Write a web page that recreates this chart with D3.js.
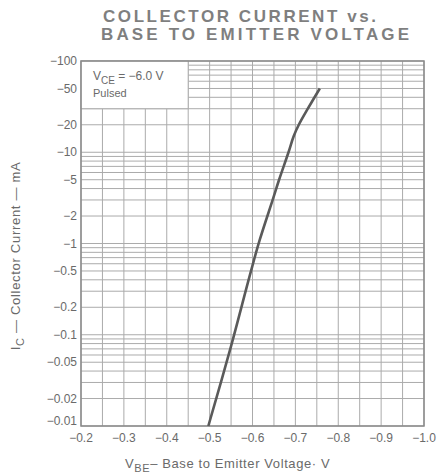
<!DOCTYPE html>
<html><head><meta charset="utf-8">
<script src="https://cdn.jsdelivr.net/npm/d3@7"></script>
<style>
html,body{margin:0;padding:0;background:#fff;}
svg{display:block;font-family:"Liberation Sans",Arial,sans-serif;}
</style></head>
<body><svg id="c" width="438" height="475"></svg>
<script>
// ---- data ----
const vbe = [-0.497, -0.55, -0.595, -0.617, -0.648, -0.662, -0.684, -0.696, -0.708, -0.729, -0.757];
const ic  = [-0.01, -0.075, -0.47, -1.1, -3.1, -5, -10, -15, -20, -30, -50];
const xTicks = [-0.2, -0.3, -0.4, -0.5, -0.6, -0.7, -0.8, -0.9, -1.0];
const yTicks = [-100, -50, -20, -10, -5, -2, -1, -0.5, -0.2, -0.1, -0.05, -0.02, -0.01];
const yTickLabels = ["−100","−50","−20","−10","−5","−2","−1","−0.5","−0.2","−0.1","−0.05","−0.02","−0.01"];
const xTickLabels = ["−0.2","−0.3","−0.4","−0.5","−0.6","−0.7","−0.8","−0.9","−1.0"];

const L = 81, R = 424, T = 61, B = 426;
const svg = d3.select("#c");
const x = d3.scaleLinear().domain([-0.2, -1.0]).range([L, R]);
const y = d3.scaleLog().domain([-0.01, -100]).range([B, T]);

const gridCol = "#ababab";
// vertical gridlines every 0.05 V
const vGrid = d3.range(17).map(i => -0.2 - i * 0.05);
// horizontal log gridlines
const hGrid = [];
[0.01, 0.1, 1, 10].forEach(d => { for (let k = 1; k <= 9; k++) hGrid.push(-d * k); });
hGrid.push(-100);

const g = svg.append("g");
g.selectAll("line.v").data(vGrid).join("line")
  .attr("x1", d => x(d)).attr("x2", d => x(d)).attr("y1", T).attr("y2", B)
  .attr("stroke", gridCol).attr("stroke-width", 1);
g.selectAll("line.h").data(hGrid).join("line")
  .attr("x1", L).attr("x2", R).attr("y1", d => y(d)).attr("y2", d => y(d))
  .attr("stroke", gridCol).attr("stroke-width", 1);

// legend box
g.append("rect").attr("x", L).attr("y", T).attr("width", x(-0.45) - L).attr("height", y(-30) - T)
  .attr("fill", "#fff").attr("stroke", gridCol).attr("stroke-width", 1);

// frame
g.append("rect").attr("x", L).attr("y", T).attr("width", R - L).attr("height", B - T)
  .attr("fill", "none").attr("stroke", "#8a8a8a").attr("stroke-width", 1.5);

// curve
const pts = vbe.map((v, i) => [v, ic[i]]);
g.append("path").datum(pts)
  .attr("d", d3.line().x(d => x(d[0])).y(d => y(d[1])).curve(d3.curveCatmullRom.alpha(0.5)))
  .attr("fill", "none").attr("stroke", "#5a5a5a").attr("stroke-width", 2.6);

const txt = "#6a6a6a";
// y tick labels
svg.append("g").selectAll("text").data(yTicks).join("text")
  .attr("x", 77).attr("y", (d, i) => d === -0.01 ? y(d) - 5 : y(d))
  .attr("dy", "0.35em").attr("text-anchor", "end")
  .attr("font-size", 12).attr("fill", txt)
  .text((d, i) => yTickLabels[i]);
// x tick labels
svg.append("g").selectAll("text").data(xTicks).join("text")
  .attr("x", d => x(d)).attr("y", 442).attr("text-anchor", "middle")
  .attr("font-size", 12).attr("fill", txt)
  .text((d, i) => xTickLabels[i]);

// legend text
const lt = svg.append("text").attr("x", 93).attr("y", 80).attr("font-size", 12).attr("fill", txt);
lt.append("tspan").text("V");
lt.append("tspan").attr("font-size", 10).attr("dy", 4).text("CE");
lt.append("tspan").attr("dy", -4).text(" = −6.0 V");
svg.append("text").attr("x", 93).attr("y", 97).attr("font-size", 11).attr("fill", txt).text("Pulsed");

// x axis title
const xt = svg.append("text").attr("x", 125).attr("y", 468).attr("font-size", 13).attr("fill", txt)
  .attr("letter-spacing", 0.6);
xt.append("tspan").text("V");
xt.append("tspan").attr("font-size", 11).attr("dy", 4).text("BE");
xt.append("tspan").attr("dy", -4).text("– Base to Emitter Voltage· V");

// y axis title
const yt = svg.append("text").attr("transform", "translate(20,256) rotate(-90)")
  .attr("text-anchor", "middle").attr("font-size", 13).attr("fill", txt).attr("letter-spacing", 0.7);
yt.append("tspan").text("I");
yt.append("tspan").attr("font-size", 11).attr("dy", 4).text("C");
yt.append("tspan").attr("dy", -4).text(" — Collector Current — mA");

// title
svg.append("text").attr("x", 103).attr("y", 22).attr("font-size", 17).attr("font-weight", "bold")
  .attr("fill", "#7f7f7f").attr("textLength", 273).attr("lengthAdjust", "spacing")
  .text("COLLECTOR CURRENT vs.");
svg.append("text").attr("x", 101).attr("y", 40).attr("font-size", 17).attr("font-weight", "bold")
  .attr("fill", "#7f7f7f").attr("textLength", 308).attr("lengthAdjust", "spacing")
  .text("BASE TO EMITTER VOLTAGE");
</script></body></html>
